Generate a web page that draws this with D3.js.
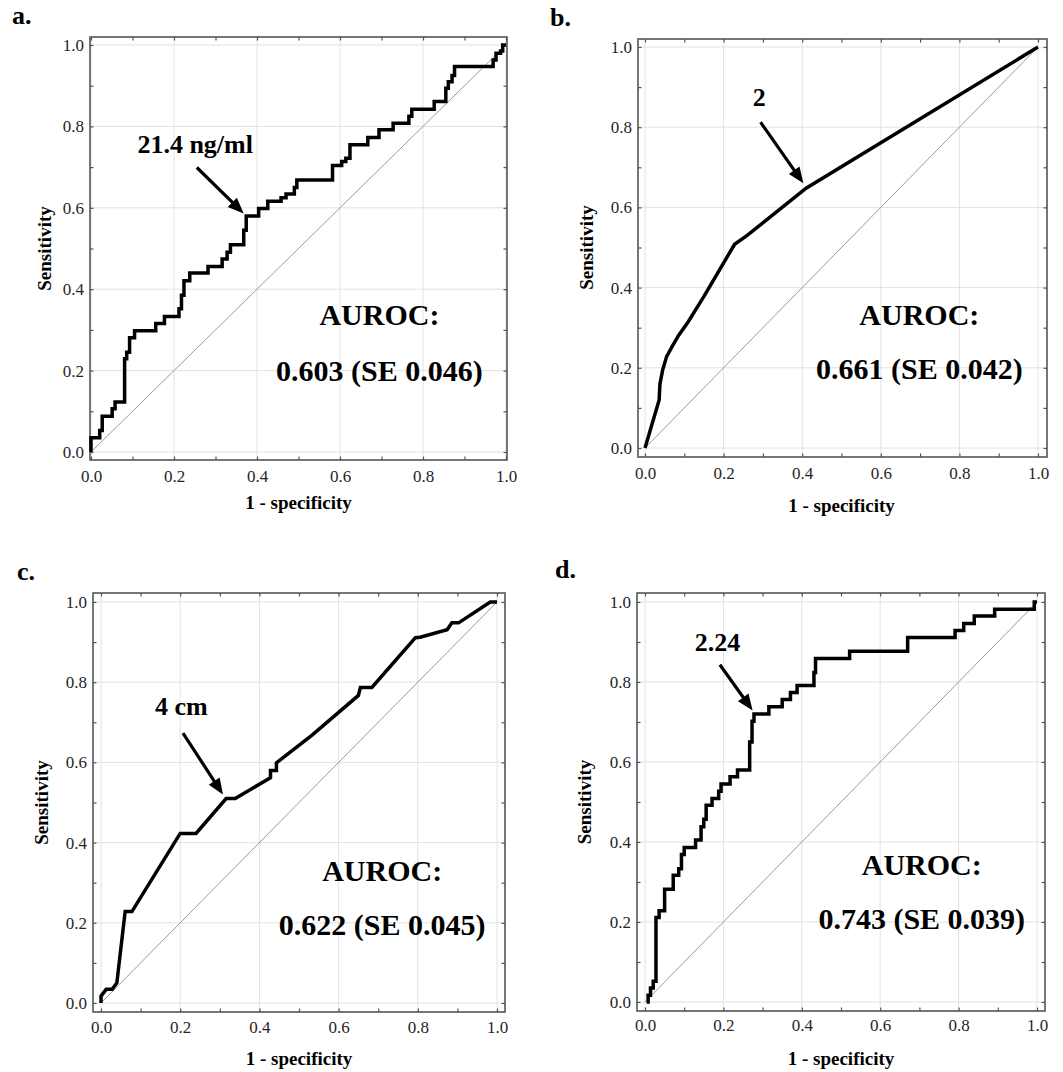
<!DOCTYPE html>
<html>
<head>
<meta charset="utf-8">
<script src="https://cdn.jsdelivr.net/npm/d3@7"></script>
<style>
  body { margin: 0; background: #fff; }
  svg { display: block; }
  text { font-family: "Liberation Serif", "Times New Roman", serif; }
</style>
</head>
<body>
<svg id="fig" width="1063" height="1072"></svg>
<script>
// ROC curves, each point = [1 - specificity, sensitivity]
// a and d are empirical step curves (point = corner after each rise)
const rocA = [
  [0,0],[0,0.035],[0.021,0.053],[0.027,0.088],[0.051,0.106],[0.058,0.123],
  [0.081,0.229],[0.086,0.245],[0.093,0.281],[0.105,0.298],[0.156,0.316],
  [0.177,0.333],[0.212,0.352],[0.218,0.385],[0.224,0.421],[0.238,0.440],
  [0.282,0.456],[0.316,0.474],[0.328,0.491],[0.336,0.509],[0.368,0.545],
  [0.374,0.580],[0.404,0.598],[0.426,0.616],[0.458,0.625],[0.470,0.634],
  [0.490,0.650],[0.496,0.668],[0.582,0.704],[0.604,0.714],[0.614,0.722],
  [0.624,0.755],[0.667,0.773],[0.694,0.792],[0.728,0.808],[0.766,0.825],
  [0.773,0.842],[0.827,0.861],[0.855,0.894],[0.861,0.910],[0.870,0.925],
  [0.876,0.947],[0.969,0.963],[0.976,0.980],[0.987,0.985],[0.992,1.0],[1.0,1.0]
];
const rocB = [
  [0,0],[0.018,0.06],[0.036,0.12],[0.038,0.16],[0.045,0.195],[0.055,0.228],
  [0.07,0.255],[0.085,0.28],[0.11,0.315],[0.15,0.378],[0.19,0.445],
  [0.228,0.508],[0.26,0.53],[0.33,0.585],[0.41,0.648],[1,1]
];
const rocC = [
  [0,0],[0,0.017],[0.013,0.034],[0.028,0.034],[0.04,0.05],[0.061,0.228],
  [0.078,0.228],[0.2,0.423],[0.24,0.423],[0.316,0.51],[0.339,0.51],
  [0.428,0.562],[0.428,0.58],[0.443,0.58],[0.443,0.599],[0.533,0.668],
  [0.65,0.767],[0.655,0.787],[0.684,0.787],[0.794,0.911],[0.806,0.912],
  [0.874,0.931],[0.886,0.948],[0.903,0.948],[0.983,1.0],[1,1]
];
const rocD = [
  [0.004,0],[0.008,0.017],[0.014,0.035],[0.021,0.052],[0.028,0.211],
  [0.036,0.228],[0.050,0.282],[0.072,0.317],[0.086,0.333],[0.093,0.369],
  [0.100,0.386],[0.129,0.405],[0.143,0.438],[0.150,0.457],[0.156,0.492],
  [0.171,0.509],[0.188,0.527],[0.194,0.545],[0.217,0.563],[0.236,0.580],
  [0.267,0.650],[0.273,0.702],[0.278,0.720],[0.316,0.738],[0.350,0.756],
  [0.371,0.774],[0.388,0.791],[0.431,0.824],[0.435,0.859],[0.522,0.877],
  [0.670,0.911],[0.791,0.929],[0.813,0.946],[0.840,0.965],[0.892,0.982],
  [0.993,1.0],[1.0,1.0]
];

const panelLetters = ["a.", "b.", "c.", "d."];
const cutoffLabels = ["21.4 ng/ml", "2", "4 cm", "2.24"];
const aurocTitle = "AUROC:";
const aurocValues = ["0.603 (SE 0.046)", "0.661 (SE 0.042)", "0.622 (SE 0.045)", "0.743 (SE 0.039)"];
const xTitle = "1 - specificity";
const yTitle = "Sensitivity";
const minorTicks = [0, 0.1, 0.2, 0.3, 0.4, 0.5, 0.6, 0.7, 0.8, 0.9, 1.0];
const majorTicks = [0, 0.2, 0.4, 0.6, 0.8, 1.0];

// Panel geometry (pixels) and annotation anchors (data units)
const layout = [
  { curve: rocA, step: true,
    box: {l: 90, r: 507, t: 37, b: 460}, xr: [91, 506], yr: [452, 45],
    letter: [12, 24], xPad: 10, xTitleY: 509, yTitleX: 51,
    lab: [0.251, 0.735], arrow: [[0.255, 0.699], [0.368, 0.586]],
    au: [0.695, 0.311, 0.175] },
  { curve: rocB, step: false,
    box: {l: 638, r: 1047, t: 39, b: 457}, xr: [645, 1038], yr: [448, 47],
    letter: [550, 26], xPad: 10, xTitleY: 512, yTitleX: 593,
    lab: [0.291, 0.852], arrow: [[0.294, 0.8125], [0.403, 0.66]],
    au: [0.698, 0.307, 0.172] },
  { curve: rocC, step: false,
    box: {l: 93, r: 505, t: 593, b: 1012}, xr: [101, 497], yr: [1003, 602],
    letter: [17, 580], xPad: 9, xTitleY: 1065, yTitleX: 48,
    lab: [0.203, 0.719], arrow: [[0.207, 0.673], [0.308, 0.52]],
    au: [0.71, 0.305, 0.169] },
  { curve: rocD, step: true,
    box: {l: 637, r: 1045, t: 593, b: 1011}, xr: [645, 1037], yr: [1002, 602],
    letter: [555, 578], xPad: 8, xTitleY: 1065, yTitleX: 591,
    lab: [0.185, 0.877], arrow: [[0.191, 0.843], [0.2745, 0.729]],
    au: [0.706, 0.318, 0.182] }
];

const svg = d3.select("#fig");
const fmt = d3.format(".1f");
const isMajor = d => Math.abs(d * 5 - Math.round(d * 5)) < 1e-9;
const TICK = -3.5;  // inward ticks

layout.forEach((p, i) => {
  const g = svg.append("g");
  const x = d3.scaleLinear().domain([0, 1]).range(p.xr);
  const y = d3.scaleLinear().domain([0, 1]).range(p.yr);
  const bx = p.box;

  // grid
  g.append("g").selectAll("line").data(majorTicks).join("line")
    .attr("x1", d => x(d)).attr("x2", d => x(d))
    .attr("y1", bx.t).attr("y2", bx.b)
    .attr("stroke", "#e2e2e2").attr("stroke-width", 1);
  g.append("g").selectAll("line").data(majorTicks).join("line")
    .attr("x1", bx.l).attr("x2", bx.r)
    .attr("y1", d => y(d)).attr("y2", d => y(d))
    .attr("stroke", "#e2e2e2").attr("stroke-width", 1);

  // reference diagonal
  g.append("line")
    .attr("x1", x(0)).attr("y1", y(0)).attr("x2", x(1)).attr("y2", y(1))
    .attr("stroke", "#9a9a9a").attr("stroke-width", 1);

  // axes (ticks on all four sides, labels on bottom/left)
  const styleAxis = sel => {
    sel.select(".domain").remove();
    sel.selectAll(".tick line").attr("stroke", "#555").attr("stroke-width", 1.2);
    sel.selectAll(".tick text").attr("font-size", 17).attr("fill", "#262626")
      .attr("font-family", "Liberation Serif, Times New Roman, serif");
  };
  g.append("g").attr("transform", `translate(0,${bx.b})`)
    .call(d3.axisBottom(x).tickValues(minorTicks).tickSize(TICK).tickPadding(p.xPad)
      .tickFormat(d => isMajor(d) ? fmt(d) : ""))
    .call(styleAxis);
  g.append("g").attr("transform", `translate(0,${bx.t})`)
    .call(d3.axisTop(x).tickValues(minorTicks).tickSize(TICK).tickFormat(""))
    .call(styleAxis);
  g.append("g").attr("transform", `translate(${bx.l},0)`)
    .call(d3.axisLeft(y).tickValues(minorTicks).tickSize(TICK).tickPadding(6)
      .tickFormat(d => isMajor(d) ? fmt(d) : ""))
    .call(styleAxis);
  g.append("g").attr("transform", `translate(${bx.r},0)`)
    .call(d3.axisRight(y).tickValues(minorTicks).tickSize(TICK).tickFormat(""))
    .call(styleAxis);

  // frame
  g.append("rect")
    .attr("x", bx.l).attr("y", bx.t)
    .attr("width", bx.r - bx.l).attr("height", bx.b - bx.t)
    .attr("fill", "none").attr("stroke", "#555").attr("stroke-width", 1.6);

  // ROC curve
  const line = d3.line()
    .x(d => x(d[0])).y(d => y(d[1]))
    .curve(p.step ? d3.curveStepAfter : d3.curveLinear);
  g.append("path").datum(p.curve)
    .attr("d", line)
    .attr("fill", "none").attr("stroke", "#000")
    .attr("stroke-width", 3.5).attr("stroke-linejoin", "miter");

  // cut-off annotation with arrow
  const [[ax0, ay0], [ax1, ay1]] = p.arrow;
  const sx = x(ax0), sy = y(ay0), ex = x(ax1), ey = y(ay1);
  const len = Math.hypot(ex - sx, ey - sy);
  const ux = (ex - sx) / len, uy = (ey - sy) / len;
  const head = 16, half = 6.5;
  const hx = ex - ux * head, hy = ey - uy * head;
  g.append("line")
    .attr("x1", sx).attr("y1", sy).attr("x2", hx + ux * 2).attr("y2", hy + uy * 2)
    .attr("stroke", "#000").attr("stroke-width", 3.2);
  g.append("path")
    .attr("d", `M${ex},${ey}L${hx - uy * half},${hy + ux * half}L${hx + uy * half},${hy - ux * half}Z`)
    .attr("fill", "#000");
  g.append("text")
    .attr("x", x(p.lab[0])).attr("y", y(p.lab[1]))
    .attr("text-anchor", "middle").attr("font-size", 26).attr("font-weight", "bold")
    .text(cutoffLabels[i]);

  // AUROC statement
  g.append("text")
    .attr("x", x(p.au[0])).attr("y", y(p.au[1]))
    .attr("text-anchor", "middle").attr("font-size", 30).attr("font-weight", "bold")
    .text(aurocTitle);
  g.append("text")
    .attr("x", x(p.au[0])).attr("y", y(p.au[2]))
    .attr("text-anchor", "middle").attr("font-size", 30).attr("font-weight", "bold")
    .text(aurocValues[i]);

  // axis titles
  g.append("text")
    .attr("x", (p.xr[0] + p.xr[1]) / 2).attr("y", p.xTitleY)
    .attr("text-anchor", "middle").attr("font-size", 19).attr("font-weight", "bold")
    .text(xTitle);
  const cy = (p.yr[0] + p.yr[1]) / 2;
  g.append("text")
    .attr("transform", `translate(${p.yTitleX},${cy}) rotate(-90)`)
    .attr("text-anchor", "middle").attr("font-size", 19).attr("font-weight", "bold")
    .text(yTitle);

  // panel letter
  g.append("text")
    .attr("x", p.letter[0]).attr("y", p.letter[1])
    .attr("font-size", 26).attr("font-weight", "bold")
    .text(panelLetters[i]);
});
</script>
</body>
</html>
